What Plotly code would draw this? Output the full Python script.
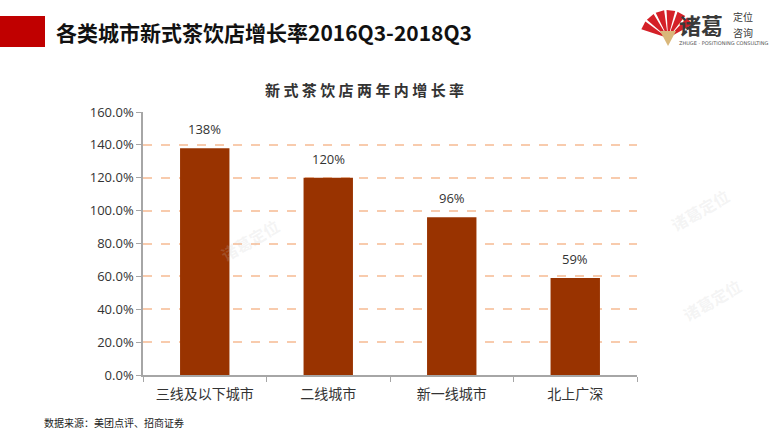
import math
import plotly.graph_objects as go

categories = ["三线及以下城市", "二线城市", "新一线城市", "北上广深"]
growth = [1.38, 1.20, 0.96, 0.59]
labels = ["138%", "120%", "96%", "59%"]
y_ticks = [0, 0.2, 0.4, 0.6, 0.8, 1.0, 1.2, 1.4, 1.6]

W, H = 781, 441
ML, MR, MT, MB = 143, 144, 112, 66
PW, PH = W - ML - MR, H - MT - MB
FONT = "Noto Sans CJK SC"

def px(x):
    return (x - ML) / PW

def py(y):
    return (H - MB - y) / PH

fig = go.Figure()
fig.add_trace(go.Bar(
    x=categories, y=growth,
    marker=dict(color="#993300", line=dict(width=0)),
    width=0.4, hoverinfo="x+y",
))

annotations = []
for c, v, t in zip(categories, growth, labels):
    annotations.append(dict(x=c, y=v, xref="x", yref="y", text=t, showarrow=False,
                            yanchor="bottom", yshift=8,
                            font=dict(family="Open Sans", size=13, color="#333333")))

shapes = []
shapes.append(dict(type="rect", xref="paper", yref="paper",
                   x0=px(0), x1=px(45), y0=py(47), y1=py(16),
                   fillcolor="#C00000", line=dict(width=0), layer="above"))
cx, cy = 668, 38
for i in range(6):
    a0 = math.radians(198 + i * 23)
    a1 = math.radians(198 + i * 23 + 18)
    r = 28
    p0 = (cx + r * math.cos(a0), cy + r * math.sin(a0))
    p1 = (cx + r * math.cos(a1), cy + r * math.sin(a1))
    path = "M {:.4f} {:.4f} L {:.4f} {:.4f} L {:.4f} {:.4f} Z".format(
        px(cx), py(cy), px(p0[0]), py(p0[1]), px(p1[0]), py(p1[1]))
    shapes.append(dict(type="path", xref="paper", yref="paper", path=path,
                       fillcolor="#D42027", line=dict(width=0)))
shapes.append(dict(type="path", xref="paper", yref="paper",
                   path="M {:.4f} {:.4f} L {:.4f} {:.4f} L {:.4f} {:.4f} Z".format(
                       px(660), py(31), px(676), py(31), px(668), py(46)),
                   fillcolor="#D9B77A", line=dict(width=0)))

annotations.append(dict(text="<b>各类城市新式茶饮店增长率2016Q3-2018Q3</b>",
                        xref="paper", yref="paper", x=px(54), y=py(32),
                        xanchor="left", yanchor="middle", showarrow=False,
                        font=dict(family=FONT, size=21, color="#111111")))
annotations.append(dict(text="<b>新 式 茶 饮 店 两 年 内 增 长 率</b>",
                        xref="paper", yref="paper", x=px(364), y=py(90),
                        xanchor="center", yanchor="middle", showarrow=False,
                        font=dict(family=FONT, size=15, color="#333333")))
annotations.append(dict(text="数据来源：美团点评、招商证券",
                        xref="paper", yref="paper", x=px(42), y=py(422),
                        xanchor="left", yanchor="middle", showarrow=False,
                        font=dict(family=FONT, size=10, color="#222222")))
annotations.append(dict(text="<b>诸葛</b>", xref="paper", yref="paper",
                        x=px(677), y=py(24), xanchor="left", yanchor="middle",
                        showarrow=False, font=dict(family=FONT, size=22, color="#3a3a3a")))
annotations.append(dict(text="定位", xref="paper", yref="paper",
                        x=px(731), y=py(17), xanchor="left", yanchor="middle",
                        showarrow=False, font=dict(family=FONT, size=10, color="#3a3a3a")))
annotations.append(dict(text="咨询", xref="paper", yref="paper",
                        x=px(731), y=py(32), xanchor="left", yanchor="middle",
                        showarrow=False, font=dict(family=FONT, size=10, color="#3a3a3a")))
annotations.append(dict(text="ZHUGE · POSITIONING CONSULTING", xref="paper", yref="paper",
                        x=px(677), y=py(43), xanchor="left", yanchor="middle",
                        showarrow=False, font=dict(family="DejaVu Sans", size=5, color="#555555")))
for (wx, wy) in [(250, 240), (700, 210), (712, 300)]:
    annotations.append(dict(text="<b>诸葛定位</b>", xref="paper", yref="paper",
                            x=px(wx), y=py(wy), xanchor="center", yanchor="middle",
                            showarrow=False, textangle=-30,
                            font=dict(family=FONT, size=16, color="rgba(200,200,200,0.2)")))

fig.update_layout(
    width=W, height=H,
    margin=dict(l=ML, r=MR, t=MT, b=MB),
    paper_bgcolor="white", plot_bgcolor="white",
    showlegend=False, bargap=0.6,
    shapes=shapes, annotations=annotations,
    font=dict(family=FONT, color="#333333"),
    xaxis=dict(
        showline=True, linecolor="#A6A6A6", linewidth=1.5,
        ticks="outside", tickson="boundaries", ticklen=5, tickcolor="#A6A6A6",
        tickfont=dict(family=FONT, size=14, color="#333333"),
        ticklabelstandoff=5,
        showgrid=False,
    ),
    yaxis=dict(
        range=[0, 1.6], tickvals=y_ticks, tickformat=".1%",
        showline=True, linecolor="#A6A6A6", linewidth=1.5,
        ticks="outside", ticklen=5, tickcolor="#A6A6A6",
        tickfont=dict(family="Open Sans", size=13, color="#333333"),
        showgrid=True, gridcolor="#F8CBAD", gridwidth=1.5, griddash="dash",
        zeroline=False,
    ),
)

fig.write_html("out.html", config={"displayModeBar": False},
               post_script="document.body.style.margin='0';")
